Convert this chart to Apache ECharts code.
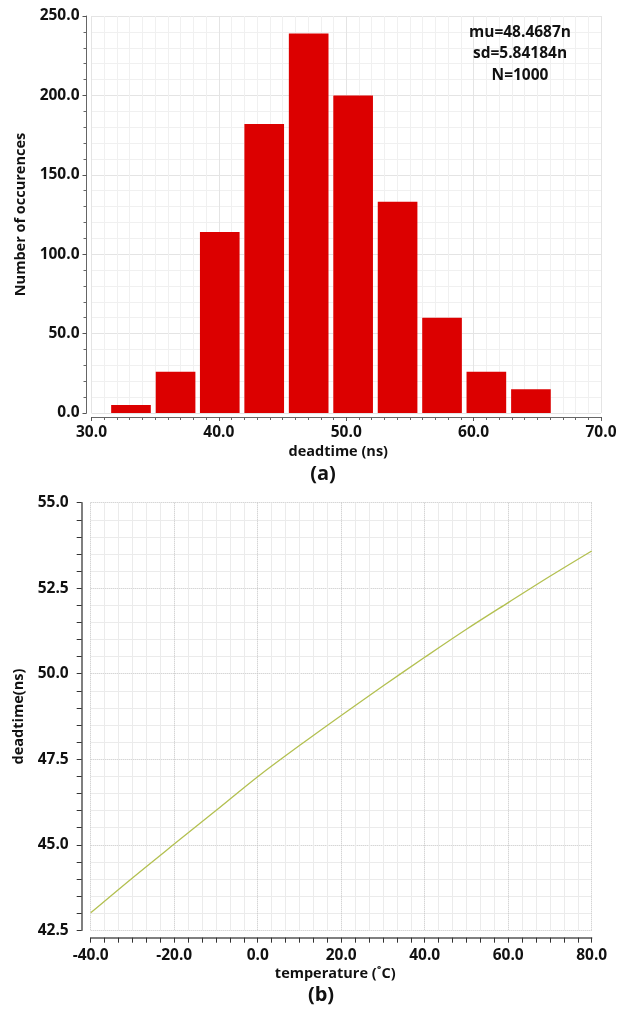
<!DOCTYPE html>
<html>
<head>
<meta charset="utf-8">
<script src="https://cdn.jsdelivr.net/npm/echarts@6/dist/echarts.min.js"></script>
<style>
  html, body { margin: 0; padding: 0; background: #ffffff; }
  #chart { width: 628px; height: 1009px; }
</style>
</head>
<body>
<div id="chart"></div>
<script>
// ---- Data: (a) Monte Carlo histogram of deadtime ----
const binCenters = [33.1, 36.6, 40.07, 43.56, 47.05, 50.54, 54.03, 57.52, 61.0, 64.5]; // ns
const binWidth = 3.49; // ns
const counts = [5, 26, 114, 182, 239, 200, 133, 60, 26, 15];
const statLines = ['mu=48.4687n', 'sd=5.84184n', 'N=1000'];

// ---- Data: (b) deadtime vs temperature ----
const temperatures = [-40, -30, -20, -10, 0, 10, 20, 30, 40, 50, 60, 70, 80];
const deadtimes = [43.01, 44.03, 45.02, 46.0, 46.99, 47.9, 48.78, 49.64, 50.48, 51.3, 52.08, 52.85, 53.59];

const FONT = '"Open Sans", "Noto Sans", sans-serif';
const labelStyle = { color: '#111', fontFamily: FONT, fontWeight: 'bold', fontSize: 15.5 };
const nameStyle = { color: '#111', fontFamily: FONT, fontWeight: 'bold', fontSize: 14.5 };

const chart = echarts.init(document.getElementById('chart'), null, { renderer: 'canvas' });

const option = {
  animation: false,
  backgroundColor: '#ffffff',
  grid: [
    { left: 91.5, right: 27, top: 16, height: 397, containLabel: false },
    { left: 90.7, right: 36.3, top: 502.7, height: 427.6, containLabel: false }
  ],
  xAxis: [
    {
      gridIndex: 0, type: 'value', min: 30, max: 70, interval: 10, offset: 4,
      name: 'deadtime (ns)', nameLocation: 'middle', nameGap: 27,
      nameTextStyle: Object.assign({}, nameStyle, { padding: [0, 16, 0, 0] }),
      axisLine: { show: true, onZero: false, lineStyle: { color: '#666', width: 1 } },
      axisTick: { show: true, inside: false, length: 4, lineStyle: { color: '#555' } },
      minorTick: { show: true, splitNumber: 10, length: 3, lineStyle: { color: '#666' } },
      axisLabel: Object.assign({}, labelStyle, { margin: 8, formatter: v => v.toFixed(1) }),
      splitLine: { show: true, lineStyle: { color: '#e4e4e4', width: 1 } },
      minorSplitLine: { show: true, lineStyle: { color: '#f0f0f0', width: 1 } }
    },
    {
      gridIndex: 1, type: 'value', min: -40, max: 80, interval: 20, offset: 7.4,
      name: 'temperature (\u02DAC)', nameLocation: 'middle', nameGap: 29,
      nameTextStyle: Object.assign({}, nameStyle, { padding: [0, 12, 0, 0] }),
      axisLine: { show: true, onZero: false, lineStyle: { color: '#555', width: 1.5 } },
      axisTick: { show: true, inside: false, length: 5, lineStyle: { color: '#333' } },
      minorTick: { show: true, splitNumber: 6, length: 5, lineStyle: { color: '#333' } },
      axisLabel: Object.assign({}, labelStyle, { margin: 10, formatter: v => v.toFixed(1) }),
      splitLine: { show: true, lineStyle: { color: '#c4c4c4', width: 1, type: [1, 1] } },
      minorSplitLine: { show: true, lineStyle: { color: '#ebebeb', width: 1 } }
    }
  ],
  yAxis: [
    {
      gridIndex: 0, type: 'value', min: 0, max: 250, interval: 50, offset: 5,
      name: 'Number of occurences', nameLocation: 'middle', nameGap: 52,
      nameTextStyle: nameStyle,
      axisLine: { show: true, onZero: false, lineStyle: { color: '#666', width: 1 } },
      axisTick: { show: true, inside: false, length: 4, lineStyle: { color: '#555' } },
      minorTick: { show: true, splitNumber: 5, length: 3, lineStyle: { color: '#666' } },
      axisLabel: Object.assign({}, labelStyle, { margin: 7, formatter: v => v.toFixed(1) }),
      splitLine: { show: true, lineStyle: { color: '#e4e4e4', width: 1 } },
      minorSplitLine: { show: true, lineStyle: { color: '#f0f0f0', width: 1 } }
    },
    {
      gridIndex: 1, type: 'value', min: 42.5, max: 55, interval: 2.5, offset: 9,
      name: 'deadtime(ns)', nameLocation: 'middle', nameGap: 53,
      nameTextStyle: nameStyle,
      axisLine: { show: true, onZero: false, lineStyle: { color: '#555', width: 1.5 } },
      axisTick: { show: true, inside: false, length: 5, lineStyle: { color: '#333' } },
      minorTick: { show: true, splitNumber: 5, length: 5, lineStyle: { color: '#333' } },
      axisLabel: Object.assign({}, labelStyle, { margin: 13, formatter: v => v.toFixed(1) }),
      splitLine: { show: true, lineStyle: { color: '#c4c4c4', width: 1, type: [1, 1] } },
      minorSplitLine: { show: true, lineStyle: { color: '#ebebeb', width: 1 } }
    }
  ],
  series: [
    {
      type: 'custom',
      xAxisIndex: 0, yAxisIndex: 0,
      encode: { x: 0, y: 1 },
      data: binCenters.map((c, i) => [c, counts[i]]),
      renderItem: function (params, api) {
        const c = api.value(0);
        const n = api.value(1);
        const p0 = api.coord([c - binWidth / 2, n]);
        const p1 = api.coord([c + binWidth / 2, 0]);
        const gap = 2.4;
        return {
          type: 'rect',
          shape: { x: p0[0] + gap, y: p0[1], width: p1[0] - p0[0] - 2 * gap, height: p1[1] - p0[1] },
          style: { fill: '#dc0000' }
        };
      }
    },
    {
      type: 'line',
      xAxisIndex: 1, yAxisIndex: 1,
      data: temperatures.map((t, i) => [t, deadtimes[i]]),
      smooth: 0.35,
      showSymbol: false,
      lineStyle: { color: '#b3c050', width: 1.3 }
    }
  ],
  graphic: [
    {
      type: 'text', x: 520, y: 54, z: 100,
      style: {
        text: statLines.join('\n'), fill: '#111', font: 'bold 15.5px "Open Sans", "Noto Sans", sans-serif',
        align: 'center', verticalAlign: 'middle', lineHeight: 21.5
      }
    },
    {
      type: 'text', x: 323, y: 474, z: 100,
      style: { text: '(a)', fill: '#111', font: 'bold 20px "Open Sans", "Noto Sans", sans-serif', align: 'center', verticalAlign: 'middle' }
    },
    {
      type: 'text', x: 321, y: 995, z: 100,
      style: { text: '(b)', fill: '#111', font: 'bold 20px "Open Sans", "Noto Sans", sans-serif', align: 'center', verticalAlign: 'middle' }
    }
  ]
};

chart.setOption(option);
</script>
</body>
</html>
